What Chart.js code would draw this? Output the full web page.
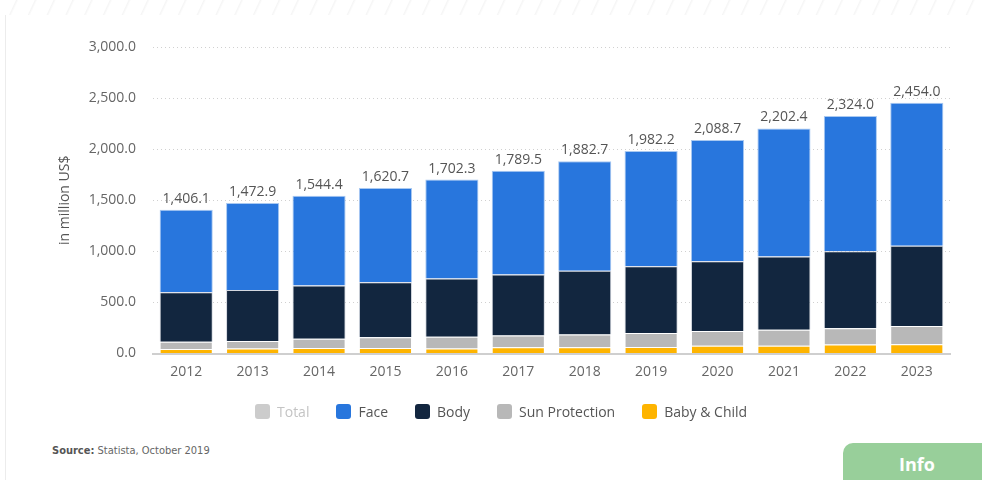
<!DOCTYPE html>
<html>
<head>
<meta charset="utf-8">
<script src="https://cdn.jsdelivr.net/npm/chart.js@4.4.1/dist/chart.umd.min.js"></script>
<style>
  html, body { margin: 0; padding: 0; background: #fff; }
  body { width: 982px; height: 480px; position: relative; overflow: hidden; font-family: "Open Sans", sans-serif; }
  #wrap { position: absolute; left: 0; top: 0; width: 982px; height: 440px; }
  #topband { position: absolute; left: 0; top: 0; width: 982px; height: 15px;
    background: repeating-linear-gradient(115deg, rgba(0,0,0,0) 0px, rgba(0,0,0,0) 14px, rgba(200,200,200,0.18) 15px, rgba(0,0,0,0) 17px); }
  #leftline { position: absolute; left: 5px; top: 15px; width: 1px; height: 465px; background: #ececec; }
  #legend { position: absolute; left: 255px; top: 399px; height: 24px; display: flex; align-items: center; font-size: 14px; color: #555; white-space: nowrap; }
  #legend .item { display: flex; align-items: center; margin-right: 27px; }
  #legend .box { width: 15px; height: 15px; border-radius: 3px; margin-right: 7px; }
  #source { position: absolute; left: 52px; top: 444px; font-family: "Liberation Sans Narrow", "DejaVu Sans Condensed", sans-serif; font-size: 11px; color: #666; }
  #source b { color: #555; font-weight: bold; }
  #info { position: absolute; left: 843px; top: 443px; width: 150px; height: 50px; background: #98cf9a; border-top-left-radius: 10px; }
  #info span { position: absolute; left: 56px; top: 9px; color: #fff; font-weight: bold; font-size: 18px; font-family: "Open Sans", sans-serif; }
</style>
</head>
<body>
<div id="topband"></div>
<div id="leftline"></div>
<div id="wrap"><canvas id="c" width="982" height="440"></canvas></div>
<div id="legend"></div>
<div id="source"><b>Source:</b> Statista, October 2019</div>
<div id="info"><span>Info</span></div>
<script>
const years = ["2012","2013","2014","2015","2016","2017","2018","2019","2020","2021","2022","2023"];
const totals = [1406.1, 1472.9, 1544.4, 1620.7, 1702.3, 1789.5, 1882.7, 1982.2, 2088.7, 2202.4, 2324.0, 2454.0];
const babyChild = [45, 50, 53, 55, 50, 60, 62, 63, 75, 76, 88, 90];
const sunProtection = [70, 72, 92, 103, 115, 115, 125, 138, 145, 157, 160, 180];
const body = [485, 500, 520, 539, 568, 598, 622, 654, 682, 717, 752, 785];
const face = [806.1, 850.9, 879.4, 923.7, 969.3, 1016.5, 1073.7, 1127.2, 1186.7, 1252.4, 1324.0, 1399.0];
const yTicks = [0, 500, 1000, 1500, 2000, 2500, 3000];

const fmt = v => v.toLocaleString('en-US', {minimumFractionDigits: 1, maximumFractionDigits: 1});

const legendItems = [
  {text: 'Total', color: '#cccccc', font: '#c4c4c4'},
  {text: 'Face', color: '#2876dd', font: '#555'},
  {text: 'Body', color: '#12263f', font: '#555'},
  {text: 'Sun Protection', color: '#b8b8b8', font: '#555'},
  {text: 'Baby & Child', color: '#feb400', font: '#555'}
];

const legendEl = document.getElementById('legend');
legendItems.forEach(it => {
  const item = document.createElement('div');
  item.className = 'item';
  const box = document.createElement('span');
  box.className = 'box';
  box.style.background = it.color;
  const txt = document.createElement('span');
  txt.textContent = it.text;
  txt.style.color = it.font;
  item.appendChild(box);
  item.appendChild(txt);
  legendEl.appendChild(item);
});

const totalLabels = {
  id: 'totalLabels',
  afterDatasetsDraw(chart) {
    const ctx = chart.ctx;
    const xs = chart.scales.x, ys = chart.scales.y;
    ctx.save();
    ctx.font = '14px "Open Sans", sans-serif';
    ctx.fillStyle = '#555';
    ctx.textAlign = 'center';
    ctx.textBaseline = 'bottom';
    totals.forEach((t, i) => {
      ctx.fillText(fmt(t), xs.getPixelForValue(i), ys.getPixelForValue(t) - 4);
    });
    ctx.restore();
  }
};

new Chart(document.getElementById('c'), {
  type: 'bar',
  data: {
    labels: years,
    datasets: [
      {label: 'Baby & Child', data: babyChild, backgroundColor: '#feb400', borderColor: 'rgba(255,255,255,0.75)', borderWidth: 1},
      {label: 'Sun Protection', data: sunProtection, backgroundColor: '#b8b8b8', borderColor: 'rgba(255,255,255,0.75)', borderWidth: 1},
      {label: 'Body', data: body, backgroundColor: '#12263f', borderColor: 'rgba(200,205,215,0.8)', borderWidth: 1},
      {label: 'Face', data: face, backgroundColor: '#2876dd', borderColor: 'rgba(160,195,240,0.9)', borderWidth: 1}
    ]
  },
  options: {
    responsive: false,
    animation: false,
    layout: {padding: {left: 53, right: 32, top: 47, bottom: 58}},
    datasets: {bar: {categoryPercentage: 0.8, barPercentage: 1}},
    plugins: {
      tooltip: {enabled: false},
      legend: {display: false}
    },
    scales: {
      x: {
        stacked: true,
        afterFit: s => { s.height = 28.5; },
        grid: {display: false, drawTicks: false},
        border: {display: true, color: '#cfcfcf', width: 2},
        ticks: {color: '#666', font: {family: '"Open Sans", sans-serif', size: 14}, padding: 10}
      },
      y: {
        stacked: true,
        min: 0, max: 3000,
        afterBuildTicks: s => { s.ticks = yTicks.map(v => ({value: v})); },
        afterFit: s => { s.width = 100; },
        border: {display: false, dash: [1, 3]},
        grid: {color: '#d0d0d0', drawTicks: false, lineWidth: 1},
        ticks: {color: '#666', font: {family: '"Open Sans", sans-serif', size: 14}, padding: 17, callback: v => fmt(v)},
        title: {display: true, text: 'in million US$', color: '#555', font: {family: '"Open Sans", sans-serif', size: 14}, padding: {top: 4, bottom: 0}}
      }
    }
  },
  plugins: [totalLabels]
});
</script>
</body>
</html>
